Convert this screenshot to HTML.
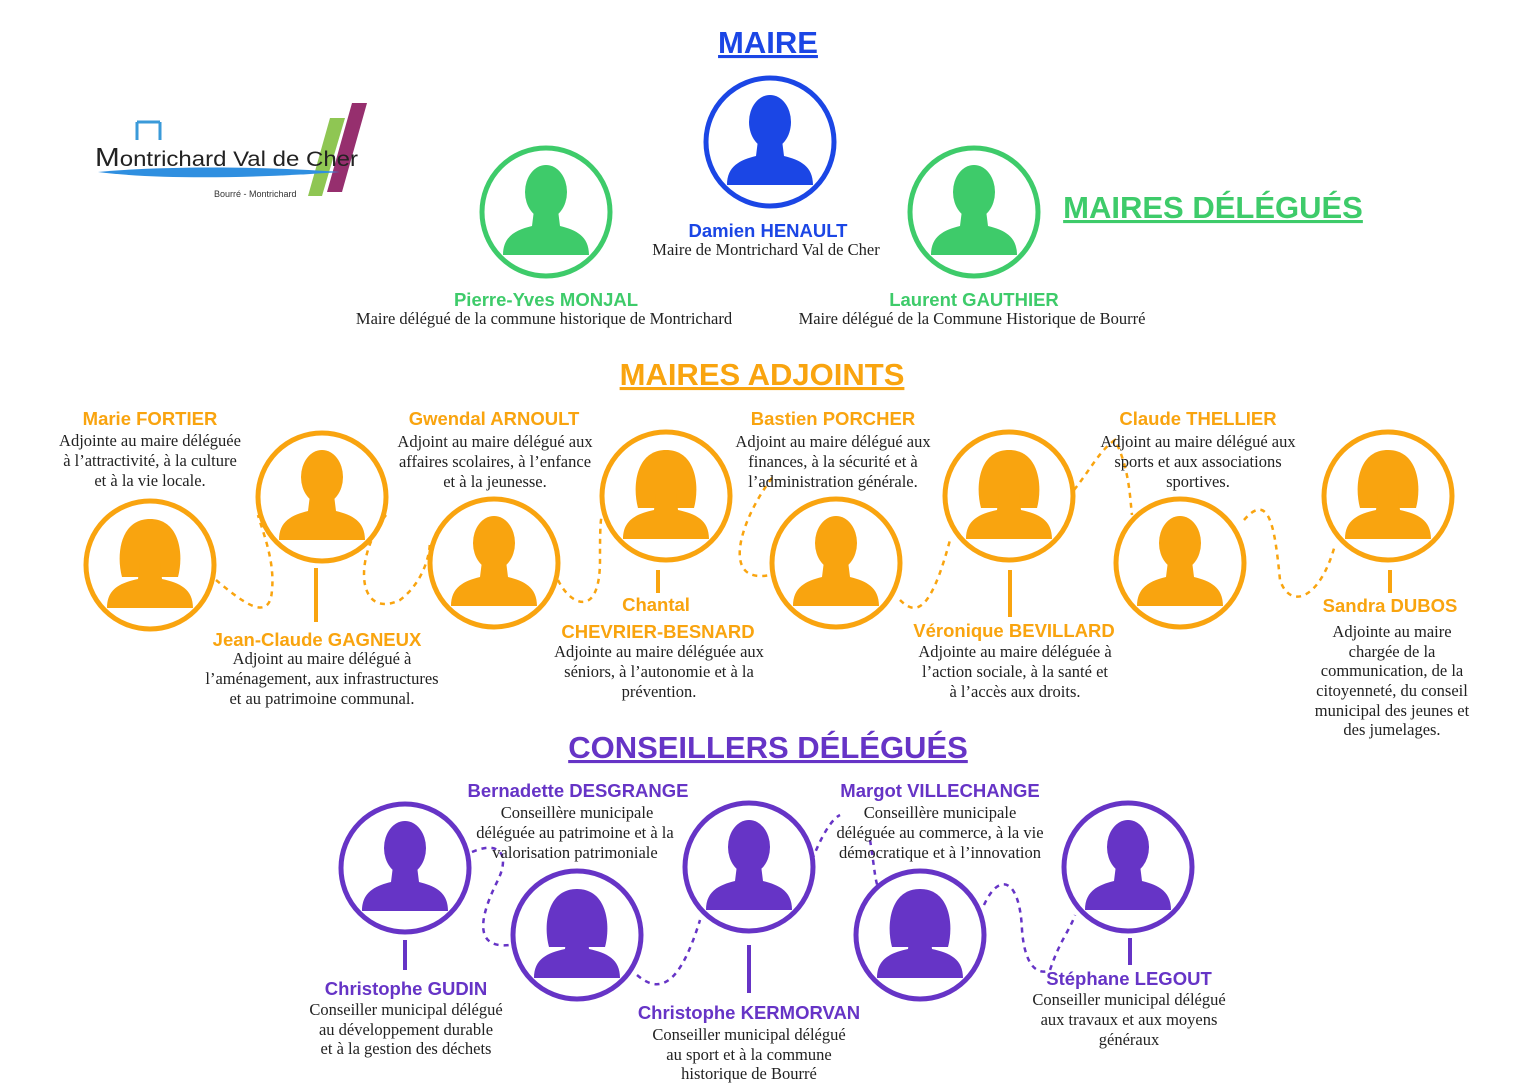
<!DOCTYPE html>
<html><head><meta charset="utf-8"><style>
html,body{margin:0;padding:0;background:#fff}
svg{display:block}
.n{font-family:"Liberation Sans",sans-serif;font-weight:bold;font-size:18.5px;text-anchor:middle}
.d{font-family:"Liberation Serif",serif;font-size:16.5px;fill:#222;text-anchor:middle}
.t{font-family:"Liberation Sans",sans-serif;font-weight:bold;font-size:31px;text-anchor:middle;text-decoration:underline}
</style></head><body>
<svg width="1536" height="1086" viewBox="0 0 1536 1086" xmlns="http://www.w3.org/2000/svg">
<defs>
<g id="m">
<circle r="64" fill="#fff" stroke="currentColor" stroke-width="5"/>
<ellipse cx="0" cy="-20" rx="21" ry="27" fill="currentColor"/>
<path d="M-43,43 C-43,24 -30,18 -14,14 L-12,-2 L12,-2 L14,14 C30,18 43,24 43,43 Z" fill="currentColor"/>
</g>
<g id="f">
<circle r="64" fill="#fff" stroke="currentColor" stroke-width="5"/>
<path d="M-28,12 C-34,-10 -30,-46 0,-46 C30,-46 34,-10 28,12 Z" fill="currentColor"/>
<path d="M-43,43 C-43,24 -30,18 -12,14 L-10,-2 L10,-2 L12,14 C30,18 43,24 43,43 Z" fill="currentColor"/>
</g>
</defs>

<!-- logo -->
<g>
<path d="M330,118 L345,118 L322,196 L308,196 Z" fill="#8fc653"/>
<path d="M352,103 L367,103 L342,192 L327,192 Z" fill="#962f6e"/>
<path d="M137,140 V122 M137,122 H160 M160,122 V140" stroke="#3a9ad9" stroke-width="3" fill="none"/>
<path d="M98,172 C160,166 260,166 340,172 C260,178 160,180 98,172 Z" fill="#2f8fe0"/>
<text x="95" y="166" font-family="Liberation Sans,sans-serif" font-size="26" fill="#222" textLength="263" lengthAdjust="spacingAndGlyphs">M<tspan font-size="21">ontrichard  Val de Cher</tspan></text>
<text x="214" y="197" font-family="Liberation Sans,sans-serif" font-size="9" fill="#333">Bourré - Montrichard</text>
</g>

<!-- titles -->
<text class="t" x="768" y="53" fill="#1b46e5">MAIRE</text>
<text class="t" x="1213" y="218" fill="#3ecb6a">MAIRES DÉLÉGUÉS</text>
<text class="t" x="762" y="385" fill="#f9a40f">MAIRES ADJOINTS</text>
<text class="t" x="768" y="758" fill="#6634c6">CONSEILLERS DÉLÉGUÉS</text>

<!-- top -->
<use href="#m" x="770" y="142" color="#1b46e5"/>
<use href="#m" x="546" y="212" color="#3ecb6a"/>
<use href="#m" x="974" y="212" color="#3ecb6a"/>
<text class="n" x="768" y="237" fill="#1b46e5">Damien HENAULT</text>
<text class="d" x="766" y="255">Maire de Montrichard Val de Cher</text>
<text class="n" x="546" y="306" fill="#3ecb6a">Pierre-Yves MONJAL</text>
<text class="d" x="544" y="324">Maire délégué de la commune historique de Montrichard</text>
<text class="n" x="974" y="306" fill="#3ecb6a">Laurent GAUTHIER</text>
<text class="d" x="972" y="324">Maire délégué de la Commune Historique de Bourré</text>

<!-- orange connectors -->
<g stroke="#f9a40f" stroke-width="2.5" fill="none" stroke-dasharray="5,5">
<path d="M216,580 C240,600 270,625 272,590 C275,560 262,530 258,515"/>
<path d="M386,515 C352,560 358,620 400,600 C420,585 430,560 430,540"/>
<path d="M558,580 C570,605 600,620 600,560 C600,540 600,520 602,515"/>
<path d="M772,478 C740,520 720,585 770,575"/>
<path d="M900,600 C915,615 930,615 950,540"/>
<path d="M1074,490 C1090,470 1100,450 1115,440 C1130,470 1130,500 1132,515"/>
<path d="M1244,520 C1270,490 1275,530 1280,580 C1290,610 1320,600 1335,545"/>
</g>
<g stroke="#f9a40f" stroke-width="4">
<line x1="316" y1="568" x2="316" y2="622"/>
<line x1="658" y1="570" x2="658" y2="593"/>
<line x1="1010" y1="570" x2="1010" y2="617"/>
<line x1="1390" y1="570" x2="1390" y2="593"/>
</g>
<g color="#f9a40f">
<use href="#f" x="150" y="565"/>
<use href="#m" x="322" y="497"/>
<use href="#m" x="494" y="563"/>
<use href="#f" x="666" y="496"/>
<use href="#m" x="836" y="563"/>
<use href="#f" x="1009" y="496"/>
<use href="#m" x="1180" y="563"/>
<use href="#f" x="1388" y="496"/>
</g>
<g fill="#f9a40f">
<text class="n" x="150" y="425">Marie FORTIER</text>
<text class="n" x="494" y="425">Gwendal ARNOULT</text>
<text class="n" x="833" y="425">Bastien PORCHER</text>
<text class="n" x="1198" y="425">Claude THELLIER</text>
<text class="n" x="317" y="646">Jean-Claude GAGNEUX</text>
<text class="n" x="656" y="611">Chantal</text>
<text class="n" x="658" y="638">CHEVRIER-BESNARD</text>
<text class="n" x="1014" y="637">Véronique BEVILLARD</text>
<text class="n" x="1390" y="612">Sandra DUBOS</text>
</g>
<text class="d" x="150" y="446">Adjointe au maire déléguée</text>
<text class="d" x="150" y="466">à l’attractivité, à la culture</text>
<text class="d" x="150" y="486">et à la vie locale.</text>
<text class="d" x="495" y="447">Adjoint au maire délégué aux</text>
<text class="d" x="495" y="467">affaires scolaires, à l’enfance</text>
<text class="d" x="495" y="487">et à la jeunesse.</text>
<text class="d" x="833" y="447">Adjoint au maire délégué aux</text>
<text class="d" x="833" y="467">finances, à la sécurité et à</text>
<text class="d" x="833" y="487">l’administration générale.</text>
<text class="d" x="1198" y="447">Adjoint au maire délégué aux</text>
<text class="d" x="1198" y="467">sports et aux associations</text>
<text class="d" x="1198" y="487">sportives.</text>
<text class="d" x="322" y="664">Adjoint au maire délégué à</text>
<text class="d" x="322" y="684">l’aménagement, aux infrastructures</text>
<text class="d" x="322" y="704">et au patrimoine communal.</text>
<text class="d" x="659" y="657">Adjointe au maire déléguée aux</text>
<text class="d" x="659" y="677">séniors, à l’autonomie et à la</text>
<text class="d" x="659" y="697">prévention.</text>
<text class="d" x="1015" y="657">Adjointe au maire déléguée à</text>
<text class="d" x="1015" y="677">l’action sociale, à la santé et</text>
<text class="d" x="1015" y="697">à l’accès aux droits.</text>
<text class="d" x="1392" y="637">Adjointe au maire</text>
<text class="d" x="1392" y="657">chargée de la</text>
<text class="d" x="1392" y="676">communication, de la</text>
<text class="d" x="1392" y="696">citoyenneté, du conseil</text>
<text class="d" x="1392" y="716">municipal des jeunes et</text>
<text class="d" x="1392" y="735">des jumelages.</text>

<!-- purple -->
<g stroke="#6634c6" stroke-width="2.5" fill="none" stroke-dasharray="5,5">
<path d="M472,852 C500,840 510,855 498,880 C488,900 465,950 510,945"/>
<path d="M637,975 C660,995 680,985 700,920"/>
<path d="M812,860 C820,840 830,820 840,815"/>
<path d="M870,840 C875,870 875,885 880,890"/>
<path d="M984,905 C1000,870 1020,880 1022,930 C1025,970 1040,975 1050,970 C1060,940 1070,930 1075,915"/>
</g>
<g stroke="#6634c6" stroke-width="4">
<line x1="405" y1="940" x2="405" y2="970"/>
<line x1="749" y1="945" x2="749" y2="993"/>
<line x1="1130" y1="938" x2="1130" y2="965"/>
</g>
<g color="#6634c6">
<use href="#m" x="405" y="868"/>
<use href="#f" x="577" y="935"/>
<use href="#m" x="749" y="867"/>
<use href="#f" x="920" y="935"/>
<use href="#m" x="1128" y="867"/>
</g>
<g fill="#6634c6">
<text class="n" x="578" y="797">Bernadette DESGRANGE</text>
<text class="n" x="940" y="797">Margot VILLECHANGE</text>
<text class="n" x="406" y="995">Christophe GUDIN</text>
<text class="n" x="749" y="1019">Christophe KERMORVAN</text>
<text class="n" x="1129" y="985">Stéphane LEGOUT</text>
</g>
<text class="d" x="577" y="818">Conseillère municipale</text>
<text class="d" x="575" y="838">déléguée au patrimoine et à la</text>
<text class="d" x="575" y="858">valorisation patrimoniale</text>
<text class="d" x="940" y="818">Conseillère municipale</text>
<text class="d" x="940" y="838">déléguée au commerce, à la vie</text>
<text class="d" x="940" y="858">démocratique et à l’innovation</text>
<text class="d" x="406" y="1015">Conseiller municipal délégué</text>
<text class="d" x="406" y="1035">au développement durable</text>
<text class="d" x="406" y="1054">et à la gestion des déchets</text>
<text class="d" x="749" y="1040">Conseiller municipal délégué</text>
<text class="d" x="749" y="1060">au sport et à la commune</text>
<text class="d" x="749" y="1079">historique de Bourré</text>
<text class="d" x="1129" y="1005">Conseiller municipal délégué</text>
<text class="d" x="1129" y="1025">aux travaux et aux moyens</text>
<text class="d" x="1129" y="1045">généraux</text>
</svg>
</body></html>
